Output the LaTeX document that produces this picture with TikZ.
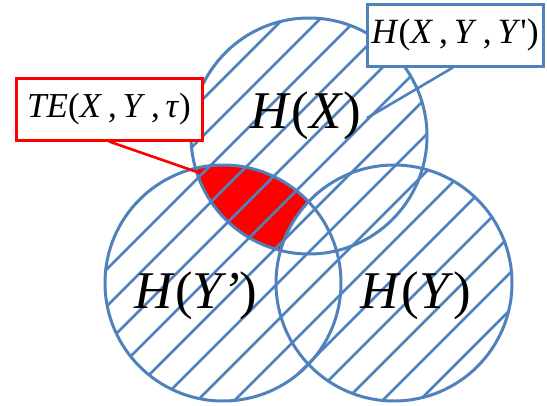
\documentclass[tikz,border=0pt]{standalone}
\usepackage{fontspec}
\setmainfont{Liberation Serif}
\definecolor{obl}{RGB}{79,129,189}
\definecolor{ored}{RGB}{255,0,0}
\begin{document}
\begin{tikzpicture}[x=1pt,y=-1pt,
  circ/.style={draw=obl,line width=3pt},
  hatch/.style={draw=obl,line width=2.6pt},
  bigtext/.style={font=\fontsize{53}{60}\selectfont,anchor=base,inner sep=0pt},
  bluebox/.style={draw=obl,fill=white,line width=3pt,minimum width=176pt,minimum height=62pt,inner sep=0pt,font=\fontsize{35.5}{40}\selectfont},
  redbox/.style={draw=ored,fill=white,line width=3pt,minimum width=186pt,minimum height=62pt,inner sep=0pt,font=\fontsize{35}{40}\selectfont},
  bluecall/.style={draw=obl,line width=2.6pt},
  redcall/.style={draw=ored,line width=2.6pt}]
\useasboundingbox (0,0) rectangle (547,405);
\def\R{118}
\coordinate (cX) at (309,136);
\coordinate (cYp) at (223,283);
\coordinate (cY) at (394,283);
% red region: X and Y' but not Y
\begin{scope}
  \clip (cX) circle[radius=\R];
  \clip (cYp) circle[radius=\R];
  \fill[ored,even odd rule] (0,0) rectangle (547,405) (cY) circle[radius=\R];
\end{scope}
% one hatching over the union of the three circles
\begin{scope}
  \clip (cX) circle[radius=\R] (cYp) circle[radius=\R] (cY) circle[radius=\R];
  \foreach \k in {-6,...,14}
    \draw[hatch] (413+37*\k-450,450) -- (413+37*\k+50,-50);
\end{scope}
% outlines
\draw[circ] (cX) circle[radius=\R];
\draw[circ] (cYp) circle[radius=\R];
\draw[circ] (cY) circle[radius=\R];
% labels
\node[bigtext] (lx) at (306,128) {\textit{H}(\textit{X})};
\node[bigtext] (lyp) at (196,308) {\textit{H}(\textit{Y’})};
\node[bigtext] (ly) at (416,308) {\textit{H}(\textit{Y})};
% callouts
\coordinate (btip) at (367,118);
\coordinate (rtip) at (200,173);
\node[bluebox] (bx) at (455,35) {\textit{H}(\textit{X}\,,\,\textit{Y}\,,\,\textit{Y}\textquotesingle)};
\node[redbox] (rb) at (109,109) {\textit{TE}(\textit{X}\,,\,\textit{Y}\,,\,\textit{τ})};
\draw[bluecall] ([xshift=-2pt]bx.south) -- (btip);
\draw[redcall] (rb.south) -- (rtip);
\end{tikzpicture}
\end{document}
